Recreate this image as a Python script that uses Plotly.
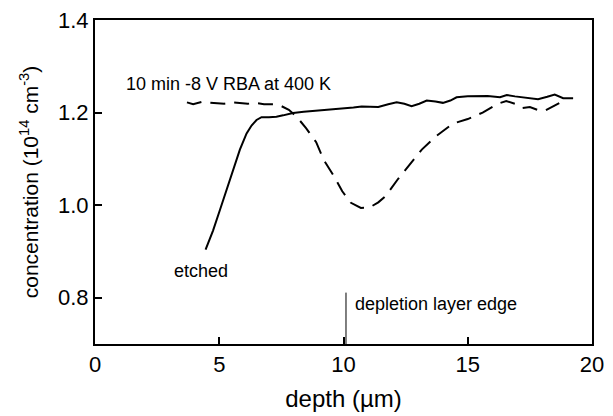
import plotly.graph_objects as go

# Etched profile (solid)
etched_x = [4.45, 4.75, 5.03, 5.43, 5.83, 6.1, 6.3, 6.5, 6.7, 7.0, 7.3, 7.57, 7.97, 8.4, 8.93,
            9.5, 9.98, 10.4, 10.73, 11.05, 11.4, 11.8, 12.14, 12.45, 12.74, 13.05, 13.35, 13.7,
            14.0, 14.3, 14.55, 15.0, 15.36, 15.8, 16.3, 16.57, 16.9, 17.22, 17.5, 17.83, 18.2,
            18.5, 18.84, 19.24]
etched_y = [0.904, 0.945, 0.99, 1.055, 1.12, 1.155, 1.172, 1.184, 1.19, 1.19, 1.191, 1.194, 1.199,
            1.202, 1.204, 1.206, 1.209, 1.211, 1.213, 1.213, 1.212, 1.218, 1.222, 1.219, 1.214,
            1.219, 1.226, 1.224, 1.221, 1.226, 1.233, 1.235, 1.236, 1.236, 1.233, 1.238, 1.235,
            1.233, 1.232, 1.229, 1.234, 1.239, 1.231, 1.231]

# After 10 min -8 V RBA at 400 K (dashed)
rba_x = [3.7, 3.95, 4.3, 4.6, 4.9, 5.2, 5.5, 5.85, 6.15, 6.45, 6.8, 7.2, 7.5, 7.8, 8.1, 8.5, 8.9,
         9.2, 9.6, 9.95, 10.3, 10.7, 11.05, 11.4, 11.7, 12.2, 12.65, 13.15, 13.75, 14.4, 15.0,
         15.6, 16.2, 16.55, 16.9, 17.2, 17.5, 17.8, 18.1, 18.71, 19.0]
rba_y = [1.222, 1.218, 1.223, 1.222, 1.221, 1.219, 1.222, 1.221, 1.219, 1.221, 1.218, 1.218,
         1.214, 1.206, 1.192, 1.166, 1.136, 1.098, 1.064, 1.03, 1.005, 0.994, 0.995, 1.006,
         1.02, 1.057, 1.087, 1.12, 1.15, 1.176, 1.186, 1.2, 1.219, 1.225, 1.219, 1.21, 1.212,
         1.206, 1.204, 1.221, 1.226]

x_range = [0, 20]
y_range = [0.7, 1.4]
x_ticks = [0, 5, 10, 15, 20]
x_minor = [2.5, 7.5, 12.5, 17.5]
y_ticks = [0.8, 1.0, 1.2, 1.4]
y_minor = [0.9, 1.1, 1.3]
depletion_edge = 10.1

FONT = "Liberation Sans, Arial, sans-serif"

fig = go.Figure()
fig.add_trace(go.Scatter(x=etched_x, y=etched_y, mode="lines",
                         line=dict(color="black", width=2), showlegend=False))
fig.add_trace(go.Scatter(x=rba_x, y=rba_y, mode="lines",
                         line=dict(color="black", width=2, dash="15px,9px"), showlegend=False))

fig.add_shape(type="line", x0=depletion_edge, x1=depletion_edge, y0=0.7, y1=0.811,
              xref="x", yref="y", line=dict(color="black", width=1))

fig.add_annotation(x=1.17, y=1.262, text="10 min -8 V RBA at 400 K", showarrow=False,
                   xanchor="left", yanchor="middle", font=dict(size=18, color="black"))
fig.add_annotation(x=3.1, y=0.858, text="etched", showarrow=False,
                   xanchor="left", yanchor="middle", font=dict(size=18, color="black"))
fig.add_annotation(x=10.37, y=0.787, text="depletion layer edge", showarrow=False,
                   xanchor="left", yanchor="middle", font=dict(size=18, color="black"))

tick_style = dict(ticks="inside", tickwidth=2, tickcolor="black", showgrid=False, zeroline=False)
overlay_style = dict(showline=False, showticklabels=False, **tick_style)

fig.update_xaxes(range=x_range, tickvals=x_ticks, ticktext=[str(v) for v in x_ticks],
                 showline=True, linewidth=2, linecolor="black", mirror=True, ticklen=7,
                 automargin="left", ticklabeloverflow="allow",
                 tickfont=dict(size=22, color="black"),
                 title=dict(text="depth (µm)", font=dict(size=24, color="black"), standoff=14),
                 **tick_style)
fig.update_yaxes(range=y_range, tickvals=y_ticks, ticktext=[f"{v:.1f}" for v in y_ticks],
                 showline=True, linewidth=2, linecolor="black", mirror=True, ticklen=7,
                 automargin="left", ticklabeloverflow="allow",
                 tickfont=dict(size=22, color="black"),
                 title=dict(text="concentration (10<sup>14</sup> cm<sup>-3</sup>)",
                            font=dict(size=21, color="black"), standoff=14),
                 **tick_style)

fig.update_layout(
    # mirrored major ticks on top/right and minor ticks on all sides
    xaxis2=dict(overlaying="x", anchor="y", side="top", range=x_range, tickvals=x_ticks,
                ticklen=7, **overlay_style),
    xaxis3=dict(overlaying="x", anchor="y", side="bottom", range=x_range, tickvals=x_minor,
                ticklen=4, **overlay_style),
    xaxis4=dict(overlaying="x", anchor="y", side="top", range=x_range, tickvals=x_minor,
                ticklen=4, **overlay_style),
    yaxis2=dict(overlaying="y", anchor="x", side="right", range=y_range, tickvals=y_ticks,
                ticklen=7, **overlay_style),
    yaxis3=dict(overlaying="y", anchor="x", side="left", range=y_range, tickvals=y_minor,
                ticklen=4, **overlay_style),
    yaxis4=dict(overlaying="y", anchor="x", side="right", range=y_range, tickvals=y_minor,
                ticklen=4, **overlay_style),
)

# page body adds an 8px offset, so the figure is sized to fit the 613x416 window
fig.update_layout(width=605, height=408, margin=dict(l=87, r=21, t=12, b=72),
                  plot_bgcolor="white", paper_bgcolor="white",
                  font=dict(family=FONT, color="black"), showlegend=False)

fig.write_html("out.html")
